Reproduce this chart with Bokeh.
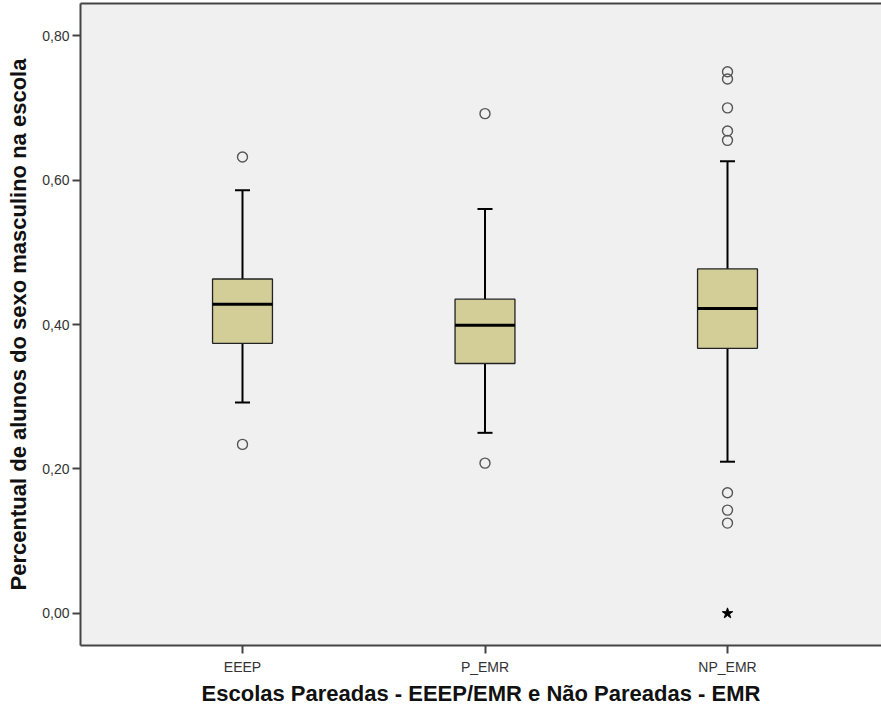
from bokeh.plotting import figure
from bokeh.models import FixedTicker, Range1d, LinearAxis
from bokeh.embed import file_html
from bokeh.resources import INLINE

# ---- data ----
categories = ["EEEP", "P_EMR", "NP_EMR"]
q1 = [0.374, 0.346, 0.367]
median = [0.428, 0.399, 0.422]
q3 = [0.463, 0.435, 0.477]
whisker_low = [0.292, 0.250, 0.210]
whisker_high = [0.586, 0.560, 0.626]
outliers = [
    [0.632, 0.234],
    [0.692, 0.208],
    [0.750, 0.740, 0.700, 0.668, 0.655, 0.167, 0.143, 0.125],
]
extremes = [[], [], [0.0]]
y_ticks = [0.0, 0.2, 0.4, 0.6, 0.8]
y_tick_labels = ["0,00", "0,20", "0,40", "0,60", "0,80"]
x_title = "Escolas Pareadas - EEEP/EMR e Não Pareadas - EMR"
y_title = "Percentual de alunos do sexo masculino na escola"

# ---- derived ----
xpos = [i + 1 for i in range(len(categories))]
box_w = 0.247
cap_w = 0.062

p = figure(width=881, height=708, output_backend="svg", toolbar_location=None,
           x_range=Range1d(0.332, 3.635), y_range=Range1d(-0.0445, 0.8445),
           min_border_left=80, min_border_right=0, min_border_top=3, min_border_bottom=0)

p.background_fill_color = "#F0F0F0"
p.border_fill_color = "white"
p.outline_line_color = None
p.xgrid.visible = False
p.ygrid.visible = False

# top frame line via an unlabeled axis
top_axis = LinearAxis(ticker=FixedTicker(ticks=[]),
                      major_tick_line_color=None, minor_tick_line_color=None,
                      major_label_standoff=0, major_tick_out=0, major_tick_in=0,
                      axis_line_color="#444444", axis_line_width=2)
p.add_layout(top_axis, "above")

# whiskers
p.segment(x0=xpos, y0=q3, x1=xpos, y1=whisker_high, line_color="black", line_width=2)
p.segment(x0=xpos, y0=q1, x1=xpos, y1=whisker_low, line_color="black", line_width=2)
p.segment(x0=[x - cap_w / 2 for x in xpos], y0=whisker_high,
          x1=[x + cap_w / 2 for x in xpos], y1=whisker_high, line_color="black", line_width=2)
p.segment(x0=[x - cap_w / 2 for x in xpos], y0=whisker_low,
          x1=[x + cap_w / 2 for x in xpos], y1=whisker_low, line_color="black", line_width=2)

# boxes
p.vbar(x=xpos, width=box_w, bottom=q1, top=q3, fill_color="#D3CE97",
       line_color="#222222", line_width=1.3)
p.segment(x0=[x - box_w / 2 for x in xpos], y0=median,
          x1=[x + box_w / 2 for x in xpos], y1=median, line_color="black", line_width=3)

# outliers
ox, oy = [], []
for x, vals in zip(xpos, outliers):
    for v in vals:
        ox.append(x)
        oy.append(v)
p.scatter(ox, oy, marker="circle", size=10, fill_color=None,
          line_color="#555555", line_width=1.4)

ex, ey = [], []
for x, vals in zip(xpos, extremes):
    for v in vals:
        ex.append(x)
        ey.append(v)
p.scatter(ex, ey, marker="star", size=11, fill_color="black", line_color="black")

# axes
p.yaxis.ticker = FixedTicker(ticks=y_ticks)
p.yaxis.major_label_overrides = {t: l for t, l in zip(y_ticks, y_tick_labels)}
p.below[0].ticker = FixedTicker(ticks=xpos)
p.below[0].major_label_overrides = {x: c for x, c in zip(xpos, categories)}

for ax in (p.below[0], p.left[0]):
    ax.axis_line_color = "#444444"
    ax.axis_line_width = 2
    ax.major_tick_line_color = "#444444"
    ax.major_tick_line_width = 2
    ax.major_tick_out = 8
    ax.major_tick_in = 0
    ax.minor_tick_line_color = None
    ax.major_label_text_font = "Liberation Sans"
    ax.major_label_text_font_size = "14px"
    ax.major_label_text_color = "#333333"
    ax.axis_label_text_font = "Liberation Sans"
    ax.axis_label_text_font_style = "bold"
    ax.axis_label_text_font_size = "22px"
    ax.axis_label_text_color = "#111111"

p.below[0].axis_label = x_title
p.left[0].axis_label = y_title
p.below[0].major_label_standoff = 5
p.below[0].axis_label_standoff = 3
p.left[0].major_label_standoff = 3
p.left[0].axis_label_standoff = 8

open("out.html", "w").write(file_html(p, INLINE))
